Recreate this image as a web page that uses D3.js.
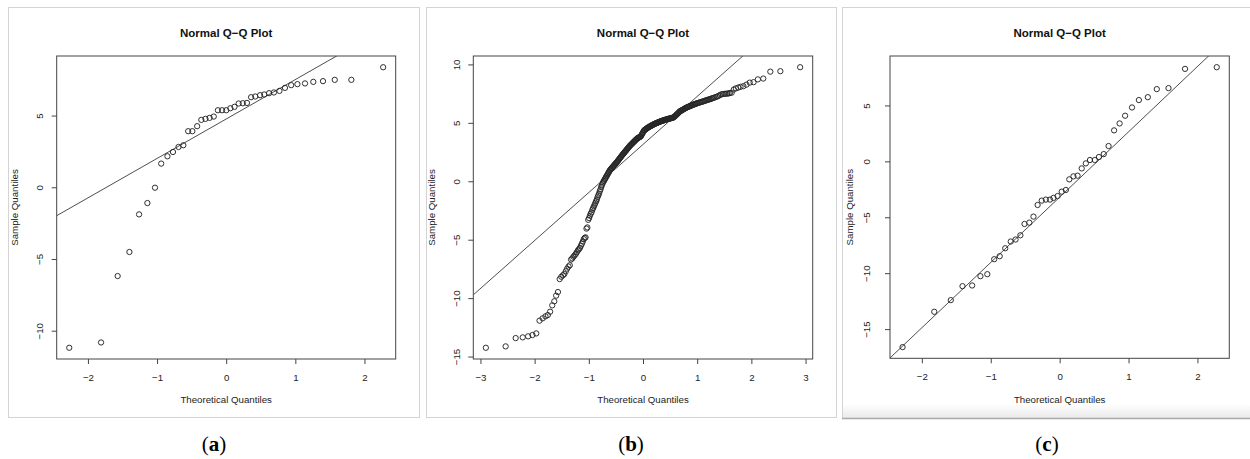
<!DOCTYPE html>
<html lang="en">
<head>
<meta charset="UTF-8">
<title>Normal Q-Q Plots</title>
<script src="https://d3js.org/d3.v7.min.js"></script>
<style>
  body { margin: 0; background: #fff; }
  svg { display: block; font-family: "Liberation Sans", Arial, sans-serif; }
</style>
</head>
<body>
<div id="chart"></div>
<script>
// ---- data: [theoretical quantile, sample quantile] ----
const qqA = [
  [-2.27,-11.19],[-1.81,-10.82],[-1.57,-6.19],[-1.40,-4.51],[-1.26,-1.89],[-1.14,-1.10],[-1.03,-0.03],
  [-0.94,1.65],[-0.85,2.16],[-0.77,2.46],[-0.69,2.81],[-0.62,2.93],[-0.55,3.91],[-0.49,3.91],[-0.42,4.26],
  [-0.36,4.70],[-0.30,4.77],[-0.24,4.84],[-0.18,4.93],[-0.12,5.37],[-0.06,5.37],[0,5.37],[0.06,5.51],
  [0.12,5.61],[0.18,5.84],[0.24,5.86],[0.30,5.88],[0.36,6.28],[0.42,6.33],[0.49,6.42],[0.55,6.47],
  [0.62,6.56],[0.69,6.61],[0.77,6.72],[0.85,6.93],[0.94,7.12],[1.03,7.19],[1.14,7.24],[1.26,7.35],
  [1.40,7.40],[1.57,7.49],[1.81,7.49],[2.27,8.37]
];

const qqB = [
  // lower tail
  [-2.90,-14.25],[-2.535,-14.13],[-2.35,-13.42],[-2.22,-13.36],[-2.12,-13.27],[-2.04,-13.16],[-1.97,-13.02],
  [-1.91,-11.93],[-1.853,-11.73],[-1.80,-11.56],[-1.757,-11.45],[-1.714,-11.16],[-1.675,-10.62],[-1.637,-10.27],
  [-1.603,-9.79],[-1.57,-9.48],[-1.538,-8.37],[-1.508,-8.17],[-1.479,-8.05],[-1.452,-7.94],[-1.425,-7.70],
  [-1.40,-7.48],[-1.375,-7.30],[-1.351,-7.19],[-1.328,-6.70],[-1.305,-6.60],[-1.284,-6.46],[-1.263,-6.35],
  [-1.242,-6.22],[-1.222,-6.08],[-1.202,-5.92],[-1.183,-5.82],[-1.164,-5.70],[-1.146,-5.52],[-1.128,-5.35],
  [-1.11,-5.15],[-1.093,-4.95],[-1.076,-4.85],[-1.06,-4.80],[-1.043,-4.05],[-1.027,-3.95],[-1.011,-3.30],
  [-0.995,-3.15],[-0.98,-2.95],[-0.965,-2.78],[-0.95,-2.65],[-0.935,-2.45],[-0.921,-2.30],[-0.906,-2.15],
  [-0.892,-2.00],[-0.878,-1.85],[-0.865,-1.70],[-0.851,-1.55],[-0.838,-1.35],[-0.824,-1.20],[-0.811,-1.05],
  [-0.798,-0.85],[-0.785,-0.70],[-0.772,-0.50],[-0.76,-0.35],[-0.747,-0.20],[-0.735,-0.08],[-0.722,0.03],
  // dense middle band
  [-0.710,0.13],[-0.699,0.22],[-0.688,0.31],[-0.677,0.40],[-0.666,0.49],[-0.655,0.58],[-0.644,0.67],
  [-0.633,0.76],[-0.622,0.85],[-0.611,0.94],[-0.600,1.01],[-0.589,1.06],[-0.578,1.12],[-0.567,1.18],
  [-0.556,1.24],[-0.545,1.30],[-0.534,1.36],[-0.523,1.42],[-0.512,1.48],[-0.501,1.54],[-0.490,1.60],
  [-0.479,1.66],[-0.468,1.72],[-0.457,1.79],[-0.446,1.86],[-0.435,1.92],[-0.424,1.99],[-0.413,2.06],
  [-0.402,2.12],
  [-0.39,2.20],[-0.38,2.26],[-0.37,2.31],[-0.36,2.37],[-0.35,2.43],[-0.34,2.48],[-0.33,2.54],[-0.32,2.60],
  [-0.31,2.65],[-0.30,2.71],[-0.29,2.77],[-0.28,2.82],[-0.27,2.88],[-0.26,2.94],[-0.25,2.99],[-0.24,3.05],
  [-0.23,3.10],[-0.22,3.14],[-0.21,3.19],[-0.20,3.23],[-0.19,3.28],[-0.18,3.33],[-0.17,3.37],[-0.16,3.42],
  [-0.15,3.47],[-0.14,3.51],[-0.13,3.56],[-0.12,3.60],[-0.11,3.65],[-0.10,3.68],[-0.09,3.71],[-0.08,3.74],
  [-0.07,3.76],[-0.06,3.79],[-0.05,3.82],[-0.04,3.85],[-0.03,3.93],[-0.02,4.02],[-0.01,4.10],
  [0.00,4.18],[0.01,4.27],[0.02,4.35],[0.03,4.38],[0.04,4.42],[0.05,4.45],[0.06,4.49],[0.07,4.52],
  [0.08,4.55],[0.09,4.59],[0.10,4.62],[0.11,4.65],[0.12,4.67],[0.13,4.70],[0.14,4.72],[0.15,4.75],
  [0.16,4.78],[0.17,4.80],[0.18,4.83],[0.19,4.85],[0.20,4.88],[0.21,4.90],[0.22,4.92],[0.23,4.94],
  [0.24,4.96],[0.25,4.98],[0.26,5.00],[0.27,5.02],[0.28,5.04],[0.29,5.06],[0.30,5.08],[0.31,5.10],
  [0.32,5.12],[0.33,5.14],[0.34,5.15],[0.35,5.17],[0.36,5.18],[0.37,5.20],[0.38,5.21],[0.39,5.23],
  [0.402,5.25],[0.413,5.26],[0.424,5.28],[0.435,5.30],[0.446,5.31],[0.457,5.33],[0.468,5.34],[0.479,5.35],
  [0.490,5.37],[0.501,5.38],[0.512,5.39],[0.523,5.41],[0.534,5.42],[0.545,5.43],[0.556,5.45],[0.567,5.48],
  [0.578,5.52],[0.589,5.57],[0.600,5.62],[0.611,5.66],[0.622,5.71],[0.633,5.76],[0.644,5.81],[0.655,5.86],
  [0.666,5.91],[0.677,5.97],[0.688,6.00],[0.699,6.03],[0.710,6.06],
  [0.724,6.10],[0.738,6.13],[0.752,6.17],[0.766,6.21],[0.780,6.25],[0.794,6.28],[0.808,6.32],[0.822,6.34],
  [0.836,6.37],[0.850,6.40],[0.864,6.43],[0.878,6.46],[0.892,6.48],[0.906,6.51],[0.920,6.54],[0.934,6.56],
  [0.948,6.59],[0.962,6.61],[0.976,6.64],[0.990,6.66],
  [1.005,6.69],[1.024,6.71],[1.043,6.74],[1.062,6.77],[1.081,6.79],[1.100,6.82],[1.119,6.85],[1.138,6.88],
  [1.157,6.91],[1.176,6.94],[1.195,6.97],[1.214,7.00],[1.233,7.02],[1.252,7.05],[1.271,7.09],[1.290,7.12],
  [1.310,7.15],[1.337,7.20],[1.364,7.24],[1.391,7.30],[1.418,7.37],[1.445,7.44],[1.472,7.46],[1.499,7.48],
  [1.526,7.49],[1.553,7.50],[1.580,7.52],
  // upper tail
  [1.603,7.55],[1.637,7.58],[1.675,7.85],[1.714,7.95],[1.757,8.02],[1.80,8.08],[1.853,8.14],[1.91,8.27],
  [1.97,8.44],[2.04,8.48],[2.12,8.72],[2.22,8.79],[2.35,9.38],[2.535,9.42],[2.90,9.76]
];

const qqC = [
  [-2.28,-16.61],[-1.82,-13.45],[-1.58,-12.41],[-1.41,-11.16],[-1.27,-11.10],[-1.15,-10.27],[-1.05,-10.09],
  [-0.95,-8.75],[-0.87,-8.48],[-0.79,-7.77],[-0.71,-7.17],[-0.64,-6.99],[-0.57,-6.61],[-0.51,-5.60],
  [-0.44,-5.48],[-0.38,-4.94],[-0.32,-3.90],[-0.26,-3.51],[-0.20,-3.42],[-0.14,-3.42],[-0.09,-3.27],
  [-0.03,-3.10],[0.03,-2.71],[0.09,-2.56],[0.14,-1.61],[0.20,-1.34],[0.26,-1.28],[0.32,-0.63],[0.38,-0.18],
  [0.44,0.12],[0.51,0.12],[0.57,0.39],[0.64,0.65],[0.71,1.37],[0.79,2.77],[0.87,3.39],[0.95,4.08],
  [1.05,4.82],[1.15,5.48],[1.28,5.74],[1.41,6.46],[1.58,6.55],[1.82,8.27],[2.28,8.42]
];

// reference lines (intercept, slope)
const lineIntercepts = [4.76, 3.15, -3.20];
const lineSlopes = [2.75, 4.11, 5.84];

const xTickValues = [[-2, -1, 0, 1, 2], [-3, -2, -1, 0, 1, 2, 3], [-2, -1, 0, 1, 2]];
const yTickValues = [[-10, -5, 0, 5], [-15, -10, -5, 0, 5, 10], [-15, -10, -5, 0, 5]];
const panelLetters = ["a", "b", "c"];
const plotTitle = "Normal Q\u2212Q Plot";
const xTitle = "Theoretical Quantiles";
const yTitle = "Sample Quantiles";

// ---- layout ----
const W = 1250, H = 459;
const layout = [
  { frame: [8, 7, 411, 410], plot: [56.7, 56, 395.7, 359], yTickDx: 17.4, yLabDx: 41.7, xTickY: 377.7, xLabY: 400, letterX: 214 },
  { frame: [426, 7, 410, 410], plot: [473.3, 56, 812.7, 359], yTickDx: 16.6, yLabDx: 41.6, xTickY: 377.7, xLabY: 400, letterX: 631 },
  { frame: [842, 7, 412, 411], plot: [890, 56, 1229.3, 358.3], yTickDx: 23.3, yLabDx: 40.7, xTickY: 376.9, xLabY: 399.3, letterX: 1047 }
];
const ink = "#262626";

const svg = d3.select("#chart").append("svg")
  .attr("width", W).attr("height", H);

const defs = svg.append("defs");
const grad = defs.append("linearGradient").attr("id", "shade")
  .attr("x1", 0).attr("y1", 0).attr("x2", 0).attr("y2", 1);
grad.append("stop").attr("offset", "0%").attr("stop-color", "#fff");
grad.append("stop").attr("offset", "100%").attr("stop-color", "#e9e9e9");

svg.append("rect").attr("width", W).attr("height", H).attr("fill", "#fff");

const datasets = [qqA, qqB, qqC];

datasets.forEach((pts, i) => {
  const L = layout[i];
  const [fx, fy, fw, fh] = L.frame;
  const [x0, y0, x1, y1] = L.plot;

  // panel frame
  if (i === 2) {
    svg.append("rect").attr("x", fx).attr("y", fy + fh - 14).attr("width", fw).attr("height", 14)
      .attr("fill", "url(#shade)");
    svg.append("rect").attr("x", fx + 0.5).attr("y", fy + 0.5).attr("width", fw).attr("height", fh)
      .attr("fill", "none").attr("stroke", "#d4d4d4");
    svg.append("line").attr("x1", fx).attr("x2", fx + fw).attr("y1", fy + fh + 0.5).attr("y2", fy + fh + 0.5)
      .attr("stroke", "#a8a8a8").attr("stroke-width", 1.5);
  } else {
    svg.append("rect").attr("x", fx + 0.5).attr("y", fy + 0.5).attr("width", fw).attr("height", fh)
      .attr("fill", "none").attr("stroke", "#d4d4d4");
  }

  // R-style 4% padded ranges
  const xe = d3.extent(pts, d => d[0]), ye = d3.extent(pts, d => d[1]);
  const xp = (xe[1] - xe[0]) * 0.04, yp = (ye[1] - ye[0]) * 0.04;
  const x = d3.scaleLinear().domain([xe[0] - xp, xe[1] + xp]).range([x0, x1]);
  const y = d3.scaleLinear().domain([ye[0] - yp, ye[1] + yp]).range([y1, y0]);

  const g = svg.append("g");

  // clip for reference line
  defs.append("clipPath").attr("id", "clip" + i).append("rect")
    .attr("x", x0).attr("y", y0).attr("width", x1 - x0).attr("height", y1 - y0);

  const dom = x.domain();
  g.append("line")
    .attr("clip-path", `url(#clip${i})`)
    .attr("x1", x(dom[0])).attr("y1", y(lineIntercepts[i] + lineSlopes[i] * dom[0]))
    .attr("x2", x(dom[1])).attr("y2", y(lineIntercepts[i] + lineSlopes[i] * dom[1]))
    .attr("stroke", "#3a3a3a").attr("stroke-width", 0.9);

  // points
  g.selectAll("circle.pt").data(pts).join("circle")
    .attr("class", "pt")
    .attr("cx", d => x(d[0])).attr("cy", d => y(d[1]))
    .attr("r", 2.65)
    .attr("fill", "none").attr("stroke", ink).attr("stroke-width", 0.95);

  // box
  g.append("rect").attr("x", x0).attr("y", y0).attr("width", x1 - x0).attr("height", y1 - y0)
    .attr("fill", "none").attr("stroke", "#444").attr("stroke-width", 1);

  // x axis
  const xa = g.append("g").attr("transform", `translate(0,${y1})`)
    .call(d3.axisBottom(x).tickValues(xTickValues[i]).tickSize(5)
      .tickFormat(d => d < 0 ? "\u2212" + Math.abs(d) : String(d)));
  xa.select(".domain").remove();
  xa.selectAll("line").attr("stroke", "#444");
  xa.selectAll("text")
    .attr("y", L.xTickY - y1).attr("dy", "0.35em")
    .attr("font-size", "9.7px").attr("font-family", "Liberation Sans, Arial, sans-serif").attr("fill", "#222");

  // y axis with rotated labels
  const ya = g.append("g").attr("transform", `translate(${x0},0)`)
    .call(d3.axisLeft(y).tickValues(yTickValues[i]).tickSize(5)
      .tickFormat(d => d < 0 ? "\u2212" + Math.abs(d) : String(d)));
  ya.select(".domain").remove();
  ya.selectAll("line").attr("stroke", "#444");
  ya.selectAll("text")
    .attr("x", null).attr("dy", "0.35em")
    .attr("text-anchor", "middle")
    .attr("transform", `translate(${-L.yTickDx},0) rotate(-90)`)
    .attr("font-size", "9.7px").attr("font-family", "Liberation Sans, Arial, sans-serif").attr("fill", "#222");

  // titles
  const cx = (x0 + x1) / 2, cy = (y0 + y1) / 2;
  g.append("text").attr("x", cx).attr("y", 32.7).attr("dy", "0.35em")
    .attr("text-anchor", "middle").attr("font-size", "11.5px").attr("font-weight", "bold")
    .attr("fill", "#111").text(plotTitle);
  g.append("text").attr("x", cx).attr("y", L.xLabY).attr("dy", "0.35em")
    .attr("text-anchor", "middle").attr("font-size", "9.7px").attr("fill", "#222").text(xTitle);
  g.append("text").attr("transform", `translate(${x0 - L.yLabDx},${cy}) rotate(-90)`)
    .attr("dy", "0.35em").attr("text-anchor", "middle").attr("font-size", "9.7px")
    .attr("fill", "#222").text(yTitle);

  // panel letter
  const lab = svg.append("text").attr("x", L.letterX).attr("y", 451)
    .attr("text-anchor", "middle").attr("font-family", "Liberation Serif, 'DejaVu Serif', serif")
    .attr("font-size", "21px").attr("fill", "#000");
  lab.append("tspan").text("(");
  lab.append("tspan").attr("font-weight", "bold").text(panelLetters[i]);
  lab.append("tspan").text(")");
});
</script>
</body>
</html>
